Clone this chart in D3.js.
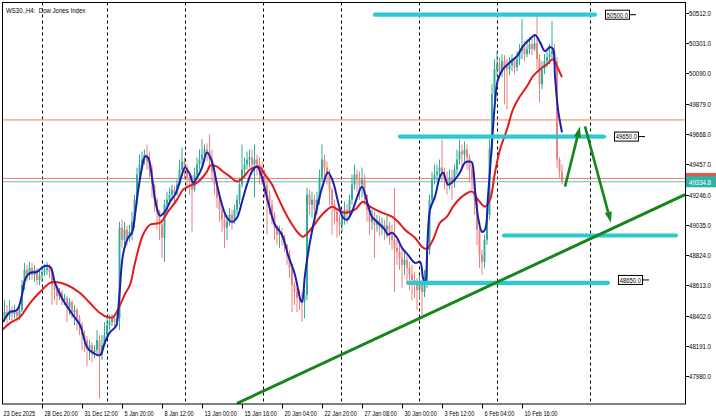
<!DOCTYPE html>
<html><head><meta charset="utf-8">
<script src="https://cdn.jsdelivr.net/npm/d3@7"></script>
<style>
html,body{margin:0;padding:0;background:#fff;}
svg{display:block;}
text{font-family:"Liberation Sans Narrow","Arial Narrow","Liberation Sans",Arial,sans-serif;white-space:pre;}
</style>
</head><body>
<svg id="c" width="716" height="419"></svg>
<script>
// ---------------- DATA ----------------
const title = "WS30.,H4:  Dow Jones Index";
const priceTicks = [47980,48191,48402,48613,48824,49035,49246,49457,49668,49879,50090,50301,50512];
const timeLabels = ["23 Dec 2025","28 Dec 20:00","31 Dec 12:00","5 Jan 20:00","8 Jan 12:00","13 Jan 00:00","15 Jan 16:00","20 Jan 04:00","22 Jan 20:00","27 Jan 08:00","30 Jan 00:00","3 Feb 12:00","6 Feb 04:00","10 Feb 16:00"];
const timeLabelBars = [0,16,32,48,64,80,96,112,128,144,160,176,192,208];
const gridBars = [16,42,73.2,104.4,135.6,166.8,198,235.2];

const firstOpen = 48398;
const closes = [
48384,48426,48398,48440,48412,48426,48398,48440,48615,48720,
48685,48734,48685,48720,48650,48678,48706,48720,48734,48706,
48615,48580,48538,48566,48510,48524,48454,48496,48426,48440,
48384,48335,48265,48230,48174,48195,48146,48160,48230,48125,
48195,48265,48335,48356,48384,48356,48384,49014,48930,49000,
48944,48986,49056,49210,49385,49455,49490,49525,49476,49420,
49315,49210,49126,49035,48944,49175,49210,49245,49280,49252,
49315,49420,49476,49434,49364,49336,49280,49385,49455,49490,
49525,49560,49546,49490,49406,49315,49224,49140,49070,49014,
49056,49105,49070,49140,49210,49315,49420,49455,49490,49504,
49455,49490,49455,49434,49385,49315,49245,49175,49105,49014,
48965,48986,48944,48895,48825,48734,48615,48566,48524,48510,
48496,48545,49245,49175,49210,49140,49210,49364,49490,49434,
49385,49280,49175,49126,49056,49035,49084,49140,49112,49210,
49315,49385,49350,49315,49350,49245,49140,49056,49084,49035,
49056,49014,49035,49000,49028,48965,48930,48874,48846,48804,
48755,48790,48734,48685,48650,48615,48580,48615,48566,48636,
48860,49210,49350,49385,49406,49434,49385,49350,49315,49364,
49336,49420,49490,49546,49525,49560,49504,49420,49350,49210,
49000,48825,48776,48930,49105,49560,49945,50120,50155,50106,
50176,50134,50120,50148,50176,50134,50190,50246,50274,50225,
50260,50295,50260,50302,50190,50015,50120,50176,50204,50225,
50246,50176,49490,49406,49334.8];
const highs = [
48475,48510,48475,48510,48468,48475,48454,48475,48650,48769,
48755,48776,48769,48755,48734,48720,48748,48762,48776,48762,
48720,48650,48608,48594,48580,48552,48538,48524,48510,48475,
48454,48405,48356,48300,48258,48230,48216,48195,48300,48265,
48265,48356,48384,48405,48412,48412,48426,49056,49070,49056,
49028,49035,49126,49245,49434,49525,49546,49560,49595,49546,
49455,49315,49224,49140,49070,49210,49266,49294,49315,49308,
49350,49490,49574,49504,49455,49406,49378,49434,49504,49560,
49630,49595,49602,49665,49560,49434,49336,49245,49175,49105,
49105,49154,49140,49175,49245,49364,49595,49504,49546,49560,
49560,49595,49525,49504,49476,49420,49350,49280,49210,49126,
49035,49028,49014,48965,48902,48860,48755,48636,48594,48580,
48566,48580,49294,49280,49266,49245,49266,49420,49595,49525,
49476,49420,49294,49210,49140,49105,49126,49196,49182,49245,
49385,49455,49420,49406,49434,49385,49245,49175,49140,49126,
49105,49098,49084,49070,49098,49056,49035,49294,48930,48895,
48860,48860,48825,48776,48755,48706,48664,48685,48650,48720,
48895,49245,49406,49455,49455,49490,49630,49434,49406,49420,
49420,49455,49560,49630,49595,49616,49595,49525,49455,49364,
49224,49014,48860,48965,49140,49630,50015,50190,50246,50204,
50225,50218,50190,50204,50225,50204,50246,50295,50470,50316,
50330,50344,50330,50358,50498,50225,50176,50225,50260,50295,
50456,50295,50204,49504,49455];
const lows = [
48195,48356,48335,48370,48370,48384,48356,48370,48426,48580,
48636,48650,48650,48636,48615,48615,48636,48678,48685,48664,
48475,48510,48475,48510,48475,48475,48356,48405,48384,48335,
48300,48265,48160,48146,48048,48090,48076,48104,48125,47824,
48090,48195,48265,48300,48328,48314,48328,48300,48874,48895,
48888,48916,48930,49014,49175,49364,49420,49455,49420,49364,
49224,49126,49000,48930,48804,48776,49126,49175,49210,49196,
49238,49308,49406,49350,49280,49245,48986,49266,49350,49420,
49455,49490,49476,49420,49336,49245,49154,49056,48986,48874,
48930,49028,49000,49042,49105,49175,49294,49364,49420,49434,
49385,49224,49378,49315,49315,49224,48965,49105,49035,48930,
48895,48874,48888,48846,48755,48664,48426,48475,48426,48440,
48356,48384,48510,49105,49084,49084,49105,49175,49336,49364,
49315,49175,48965,49035,48944,48958,48986,49035,49042,49084,
49175,49280,49266,49210,49224,49175,49056,48965,49000,48804,
48986,48958,48965,48930,48944,48895,48860,48566,48755,48720,
48594,48685,48636,48580,48510,48524,48440,48510,48405,48531,
48594,48825,49175,49315,49336,49350,49336,49280,49245,49280,
49210,49294,49385,49455,49434,49476,49420,49329,49280,49105,
48895,48734,48685,48734,48895,49070,49525,49910,50064,50050,
50064,49875,49840,50078,50106,50085,50106,50148,50190,50176,
50204,50225,50218,50246,50120,49889,49980,50085,50134,50155,
50176,50120,49434,49364,49315];

// fast MA (blue)
const fastBars = [0.4,3.2,6,8,9.2,11.2,14,16.4,18.4,19.6,21.2,24.4,28.4,31.2,34,36,39.2,41.2,43.2,45.6,46.8,48.4,50.4,52,53.2,54.4,56,57.2,58.4,60,61.6,63.2,65.2,67.2,69.2,70.4,72,73.2,75.2,76.4,78,80,82,84,86,88,90,92,94,96,98,100,102,104,106.4,109.2,112,114.4,117.2,119.2,120,121.2,123.2,126,128.4,130.4,132.4,134.4,136.4,138,140,142,144,146,148,150.4,153.2,154.4,156,158,160,162.4,165.2,167.2,168.4,169.2,171.2,173.2,175.2,176.4,178.4,180.4,183.2,185.2,187.2,188,189.2,190.4,192,193.2,194.4,196,197.2,198.4,200.4,203.2,206,208.4,211.2,213.2,215.2,217.2,219.2,220.4,221.2,222.4,224];
const fastVals = [48356,48426,48440,48545,48650,48699,48706,48741,48748,48734,48629,48510,48405,48335,48181,48146,48125,48216,48286,48328,48510,48825,48944,48979,49105,49266,49434,49511,49504,49364,49175,49098,49126,49196,49245,49294,49385,49434,49385,49329,49364,49434,49539,49476,49315,49175,49084,49056,49084,49196,49315,49406,49441,49364,49196,49035,48965,48825,48685,48524,48496,48685,48916,49154,49315,49399,49336,49196,49084,49070,49126,49224,49301,49196,49091,49049,49000,48965,48979,48944,48874,48825,48769,48776,48664,48629,49140,49231,49371,49399,49315,49336,49399,49469,49476,49469,49280,49091,48986,49000,49231,49609,49889,50050,50120,50169,50211,50281,50330,50358,50309,50246,50274,50260,50071,49840,49679];
// slow MA (red)
const slowBars = [0,3.2,7.2,11.2,15.2,19.2,21.2,26,31.2,35.2,39.2,42,44.4,47.2,49.2,51.2,53.2,56.4,59.2,63.2,66.4,70,72.4,74.4,78,82,83.2,86,88.4,91.2,94,96.4,99.2,102,103.2,105.2,108,110.4,114.4,118.4,120.4,124,128,132,134.4,137.2,141.2,144.4,147.2,152,156,158.4,161.2,165.2,168,170,172.4,175.2,178,180.4,184,188,190.4,193.2,195.2,197.2,199.2,202,204.4,207.2,210,212.4,215.2,218,220.4,222,224];
const slowVals = [48300,48349,48391,48489,48566,48629,48636,48615,48559,48489,48419,48391,48391,48475,48552,48615,48769,48965,49035,49049,49126,49210,49280,49301,49329,49406,49448,49441,49406,49371,49336,49364,49420,49441,49434,49385,49315,49224,49084,48979,48951,49014,49105,49161,49140,49119,49140,49196,49161,49119,49091,49056,49000,48944,48881,48867,48930,49049,49091,49161,49231,49266,49210,49161,49210,49399,49560,49700,49840,49931,50001,50071,50120,50155,50190,50141,50064];

// horizontal price lines
const orangeLevel = 49766;
const askLevel = 49358;
const bidLevel = 49334.8;

// analyst objects (bar index / price)
const zoneLines = [
  {from:149.2, to:237.2, price:50500, label:"50500.0"},
  {from:159.2, to:240.8, price:49650, label:"49650.0"},
  {from:200.8, to:269.6, price:48960, label:null},
  {from:162.4, to:242.4, price:48630, label:"48650.0", labelPrice:48650}
];
const trendLine = {b1:94, p1:47789, b2:273.2, p2:49245};
const arrows = [
  {b1:225.2, p1:49301, b2:231.2, p2:49721},
  {b1:233.2, p1:49721, b2:243.6, p2:49049}
];

// ---------------- DRAW ----------------
const svg = d3.select("#c");
const W = 716, H = 419;
const L = 2.5, T = 2.5, R = 685.5, B = 404;
const FS = 8;
const x = d3.scaleLinear().domain([0, 273.2]).range([2, 685]);
const y = d3.scaleLinear().domain([47980, 50512]).range([376, 13]);

svg.append("rect").attr("width",W).attr("height",H).attr("fill","#fff");

// horizontal text compression so the small chart font matches the narrow terminal font
const probe = svg.append("text").attr("font-size",FS).text("50512.0");
const squeeze = 22 / probe.node().getComputedTextLength();
probe.remove();
function addText(parent, str, xx, yy, color, k){
  return parent.append("text")
    .attr("transform",`translate(${xx},${yy}) scale(${squeeze*(k||1)},1)`)
    .attr("font-size",FS).attr("fill",color).text(str);
}

svg.append("defs").append("clipPath").attr("id","clip")
  .append("rect").attr("x",L).attr("y",T).attr("width",R-L).attr("height",B-T);
const plot = svg.append("g").attr("clip-path","url(#clip)");

// grid
plot.selectAll(".grid").data(gridBars).enter().append("line")
  .attr("x1",d=>Math.round(x(d))+0.5).attr("x2",d=>Math.round(x(d))+0.5)
  .attr("y1",T).attr("y2",B)
  .attr("stroke","#000").attr("stroke-width",1).attr("stroke-dasharray","3,3");

// price lines
function hline(v, color){
  plot.append("line").attr("x1",L).attr("x2",R).attr("y1",y(v)).attr("y2",y(v))
    .attr("stroke",color).attr("stroke-width",1);
}
hline(orangeLevel,"#e8824f");
hline(askLevel,"#ea7b70");
hline(bidLevel,"#5cc4bc");

// candles
const opens = closes.map((c,i)=> i===0 ? firstOpen : closes[i-1]);
const bull = "#2fae97", bear = "#ee8080";
const cg = plot.append("g");
closes.forEach((c,i)=>{
  const o = opens[i];
  const col = c >= o ? bull : bear;
  const cx = x(i);
  cg.append("line").attr("x1",cx).attr("x2",cx).attr("y1",y(highs[i])).attr("y2",y(lows[i]))
    .attr("stroke",col).attr("stroke-width",1);
  const top = y(Math.max(o,c)), bot = y(Math.min(o,c));
  cg.append("rect").attr("x",cx-0.95).attr("width",1.9)
    .attr("y",top).attr("height",Math.max(0.8,bot-top)).attr("fill",col);
});

// moving averages
const lineGen = d3.line().x(d=>x(d[0])).y(d=>y(d[1])).curve(d3.curveCatmullRom.alpha(0.5));
plot.append("path").datum(slowBars.map((b,i)=>[b,slowVals[i]]))
  .attr("d",lineGen).attr("fill","none").attr("stroke","#e11b1b").attr("stroke-width",2);
plot.append("path").datum(fastBars.map((b,i)=>[b,fastVals[i]]))
  .attr("d",lineGen).attr("fill","none").attr("stroke","#1b1fae").attr("stroke-width",2);

// cyan zone lines
zoneLines.forEach(z=>{
  plot.append("line").attr("x1",x(z.from)).attr("x2",x(z.to)).attr("y1",y(z.price)).attr("y2",y(z.price))
    .attr("stroke","#2cc9d2").attr("stroke-width",4.2).attr("stroke-linecap","round");
});

// trend line
plot.append("line").attr("x1",x(trendLine.b1)).attr("y1",y(trendLine.p1))
  .attr("x2",x(trendLine.b2)).attr("y2",y(trendLine.p2))
  .attr("stroke","#16861a").attr("stroke-width",3);

// arrows
arrows.forEach(a=>{
  const x1=x(a.b1), y1=y(a.p1), x2=x(a.b2), y2=y(a.p2);
  const ang = Math.atan2(y2-y1, x2-x1);
  const len = 11, hw = 3.6;
  const bx = x2 - len*Math.cos(ang), by = y2 - len*Math.sin(ang);
  plot.append("line").attr("x1",x1).attr("y1",y1).attr("x2",bx).attr("y2",by)
    .attr("stroke","#16861a").attr("stroke-width",2.6);
  const px = -Math.sin(ang)*hw, py = Math.cos(ang)*hw;
  plot.append("path").attr("d",`M${x2},${y2}L${bx+px},${by+py}L${bx-px},${by-py}Z`).attr("fill","#16861a");
});

// line labels
zoneLines.filter(z=>z.label).forEach(z=>{
  const lx = x(z.to)+10, ly = y(z.labelPrice||z.price);
  svg.append("rect").attr("x",lx+0.5).attr("y",ly-4.5).attr("width",24).attr("height",9)
    .attr("fill","#fff").attr("stroke","#000").attr("stroke-width",1);
  svg.append("line").attr("x1",lx+24.5).attr("x2",lx+31).attr("y1",ly).attr("y2",ly)
    .attr("stroke","#000").attr("stroke-width",1);
  addText(svg, z.label, lx+1.8, ly+2.9, "#000", 0.96);
});

// frame
svg.append("rect").attr("x",L).attr("y",T).attr("width",R-L).attr("height",B-T)
  .attr("fill","none").attr("stroke","#000").attr("stroke-width",1);

// price axis
priceTicks.forEach(v=>{
  const yy = Math.round(y(v))+0.5;
  svg.append("line").attr("x1",R).attr("x2",R+3.5).attr("y1",yy).attr("y2",yy).attr("stroke","#000");
  addText(svg, d3.format(".1f")(v), R+3.5, yy+2.9, "#000");
});
// current price label
svg.append("rect").attr("x",R+0.5).attr("y",y(askLevel)-5.5).attr("width",31).attr("height",11).attr("fill","#e05a55");
svg.append("rect").attr("x",R+0.5).attr("y",y(bidLevel)-5.5).attr("width",31).attr("height",11).attr("fill","#2bb3a6");
addText(svg, d3.format(".1f")(bidLevel), R+3.5, y(bidLevel)+2.9, "#fff");

// time axis
timeLabels.forEach((t,i)=>{
  const xx = Math.round(x(timeLabelBars[i]))+0.5;
  if(i>0) svg.append("line").attr("x1",xx).attr("x2",xx).attr("y1",B).attr("y2",B+4.5).attr("stroke","#000");
  addText(svg, t, i===0 ? 3.5 : xx+2, 416, "#000", 0.92);
});

// title
addText(svg, title, 6, 12.5, "#000");
</script>
</body></html>
